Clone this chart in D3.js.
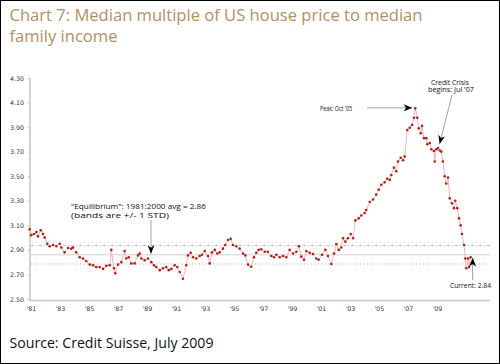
<!DOCTYPE html>
<html><head><meta charset="utf-8">
<script src="https://cdn.jsdelivr.net/npm/d3@7"></script>
<style>body{margin:0;background:#fff}svg{display:block}</style>
</head><body>
<script>
// ---- data ----
const dates = [1979.16,1979.27,1979.46,1979.62,1979.73,1979.92,1980.08,1980.19,1980.37,1980.54,1980.77,1981.00,1981.23,1981.34,1981.57,1981.80,1982.03,1982.15,1982.37,1982.61,1982.84,1983.06,1983.30,1983.53,1983.75,1983.99,1984.22,1984.44,1984.68,1984.79,1984.97,1985.06,1985.25,1985.48,1985.71,1985.82,1985.99,1986.17,1986.40,1986.63,1986.75,1986.86,1987.09,1987.32,1987.55,1987.73,1987.89,1988.13,1988.35,1988.58,1988.75,1988.93,1989.16,1989.34,1989.51,1989.73,1989.96,1990.08,1990.26,1990.42,1990.65,1990.88,1991.04,1991.23,1991.46,1991.57,1991.73,1991.92,1992.10,1992.26,1992.49,1992.65,1992.84,1993.02,1993.18,1993.41,1993.64,1993.87,1994.03,1994.22,1994.44,1994.63,1994.79,1994.95,1995.13,1995.37,1995.59,1995.82,1996.01,1996.17,1996.40,1996.63,1996.86,1997.09,1997.32,1997.55,1997.73,1997.89,1998.08,1998.24,1998.47,1998.70,1998.93,1999.09,1999.32,1999.55,1999.73,1999.96,2000.15,2000.31,2000.47,2000.65,2000.77,2000.93,2001.11,2001.30,2001.46,2001.62,2001.85,2002.03,2002.26,2002.37,2002.61,2002.84,2003.06,2003.23,2003.41,2003.64,2003.82,2003.99,2004.10,2004.28,2004.44,2004.56,2004.75,2004.91,2005.02,2005.20,2005.37,2005.53,2005.66,2005.75,2005.89,2005.99,2006.13,2006.22,2006.35,2006.51,2006.58,2006.75,2006.86,2007.04,2007.09,2007.20,2007.32,2007.44,2007.55,2007.66,2007.78,2007.89,2008.01,2008.13,2008.28,2008.42,2008.51,2008.65,2008.77,2008.88,2008.97,2009.11,2009.20,2009.27,2009.39,2009.46,2009.57];
const values = [3.068,3.02,3.03,3.045,3.01,3.06,3.03,3.00,2.95,2.93,2.94,2.93,2.95,2.92,2.88,2.915,2.91,2.92,2.88,2.84,2.83,2.81,2.78,2.775,2.76,2.76,2.745,2.77,2.775,2.90,2.75,2.71,2.78,2.80,2.89,2.83,2.84,2.79,2.79,2.855,2.87,2.83,2.815,2.83,2.80,2.775,2.76,2.735,2.75,2.76,2.735,2.745,2.775,2.76,2.72,2.665,2.775,2.855,2.877,2.84,2.83,2.85,2.86,2.89,2.85,2.79,2.88,2.90,2.87,2.88,2.91,2.94,2.98,2.99,2.94,2.93,2.91,2.87,2.855,2.78,2.763,2.84,2.877,2.90,2.905,2.885,2.885,2.85,2.84,2.86,2.84,2.85,2.84,2.90,2.87,2.885,2.93,2.845,2.82,2.89,2.877,2.866,2.83,2.82,2.86,2.90,2.85,2.785,2.87,2.948,2.90,2.92,2.995,2.967,2.995,3.03,2.995,3.14,3.157,3.18,3.20,3.225,3.29,3.31,3.35,3.39,3.43,3.45,3.48,3.47,3.51,3.57,3.54,3.62,3.65,3.63,3.66,3.876,3.895,3.917,3.976,4.053,3.976,3.89,3.85,3.91,3.81,3.81,3.76,3.77,3.72,3.705,3.62,3.72,3.73,3.71,3.70,3.62,3.50,3.44,3.49,3.32,3.28,3.24,3.30,3.24,3.157,3.10,3.03,2.94,2.83,2.75,2.83,2.76,2.84];
const xLabels = ["'81","'83","'85","'87","'89","'91","'93","'95","'97","'99","'01","'03","'05","'07","'09"];
const yTicks = [2.5,2.7,2.9,3.1,3.3,3.5,3.7,3.9,4.1,4.3];
const equilibrium = 2.86, bandStd = 0.075;
const peak = {date: 2005.75, value: 4.053, label: "Peak: Oct '05"};
const crisis = {date: 2007.5, value: 3.73, label: ["Credit Crisis", "begins: Jul '07"]};
const current = {date: 2009.57, value: 2.84, label: "Current: 2.84"};
const eqLabel = ['"Equilibrium": 1981:2000 avg = 2.86', '(bands are +/- 1 STD)'];
const title = ["Chart 7: Median multiple of US house price to median", "family income"];
const source = "Source: Credit Suisse, July 2009";

// ---- layout ----
const W = 500, H = 364;
const svg = d3.select("body").append("svg").attr("width", W).attr("height", H);
svg.append("rect").attr("x",0.5).attr("y",0.5).attr("width",W-1).attr("height",H-1)
  .attr("fill","#fff").attr("stroke","#000").attr("stroke-width",1);

const defs = svg.append("defs");
defs.append("marker").attr("id","arr").attr("viewBox","0 0 10 8").attr("refX",10).attr("refY",4)
  .attr("markerWidth",9).attr("markerHeight",7).attr("markerUnits","userSpaceOnUse").attr("orient","auto")
  .append("path").attr("d","M0,0 L10,4 L0,8 L3,4 Z").attr("fill","#000");

const x = d3.scaleLinear().domain([1979.25, 2009.25]).range([31, 466]);
const y = d3.scaleLinear().domain([2.5, 4.3]).range([299, 78]);
const xl = d3.scalePoint().domain(xLabels).range([31, 437]);

function fit(sel, w) {
  const l = sel.node().getComputedTextLength();
  if (l > 0) sel.attr("textLength", w).attr("lengthAdjust", "spacingAndGlyphs");
  return l > 0 ? w / l : 1;
}

// title
const tt = svg.append("g").attr("font-family","'Open Sans', sans-serif").attr("fill","#b38f5f");
const t1 = tt.append("text").attr("x",9.5).attr("y",20.5).attr("font-size",17).text(title[0]);
const ratio = fit(t1, 413);
const t2 = tt.append("text").attr("x",9.5).attr("y",41.5).attr("font-size",17).text(title[1]);
{ const l2 = t2.node().getComputedTextLength(); if (l2 > 0) fit(t2, l2 * ratio); }

// source
const src = svg.append("text").attr("x",9.5).attr("y",348).attr("font-family","'Open Sans', sans-serif")
  .attr("font-size",14.5).attr("fill","#111").text(source);
fit(src, 204);

// reference lines
const g = svg.append("g");
g.append("line").attr("x1",31).attr("x2",490).attr("y1",y(equilibrium+bandStd)).attr("y2",y(equilibrium+bandStd))
  .attr("stroke","#b8b8b8").attr("stroke-width",1).attr("stroke-dasharray","3,2,1,2");
g.append("line").attr("x1",31).attr("x2",490).attr("y1",y(equilibrium)).attr("y2",y(equilibrium))
  .attr("stroke","#d0d0d0").attr("stroke-width",1);
g.append("line").attr("x1",31).attr("x2",490).attr("y1",y(equilibrium-bandStd)).attr("y2",y(equilibrium-bandStd))
  .attr("stroke","#aaa").attr("stroke-width",1).attr("stroke-dasharray","1,2.5");

// axes
const ya = svg.append("g").attr("transform","translate(30,0)")
  .call(d3.axisLeft(y).tickValues(yTicks).tickFormat(d3.format(".2f")).tickSize(2).tickPadding(4));
ya.select(".domain").remove();
ya.selectAll(".tick line").attr("stroke","#bbb");
ya.selectAll("text").attr("font-family","'DejaVu Sans', sans-serif").attr("font-size",6.3).attr("fill","#333");
svg.append("line").attr("x1",30).attr("x2",30).attr("y1",78).attr("y2",301).attr("stroke","#c8c8c8").attr("stroke-width",1.6);

const xa = svg.append("g").attr("transform","translate(0,300)")
  .call(d3.axisBottom(xl).tickSize(0).tickPadding(7));
xa.select(".domain").remove();
xa.selectAll("text").attr("font-family","'DejaVu Sans', sans-serif").attr("font-size",6.3).attr("fill","#333");
svg.append("line").attr("x1",29).attr("x2",490).attr("y1",300.5).attr("y2",300.5).attr("stroke","#c8c8c8").attr("stroke-width",1.6);

// series
const pts = dates.map((d,i)=>({d, v: values[i]}));
svg.append("path").datum(pts)
  .attr("d", d3.line().x(p=>x(p.d)).y(p=>y(p.v)))
  .attr("fill","none").attr("stroke","#f0b4bc").attr("stroke-width",1);
svg.append("g").selectAll("circle").data(pts).join("circle")
  .attr("cx",p=>x(p.d)).attr("cy",p=>y(p.v)).attr("r",1.3).attr("fill","#b5200f");

// annotations
const af = "'Open Sans', sans-serif";
const ann = svg.append("g").attr("font-family",af).attr("font-size",6.3).attr("fill","#111");
const pk = ann.append("text").attr("x",320).attr("y",110.5).text(peak.label); fit(pk, 32);
svg.append("line").attr("x1",367).attr("x2",x(peak.date)-3).attr("y1",y(peak.value)-0.5).attr("y2",y(peak.value)-0.5)
  .attr("stroke","#999").attr("stroke-width",0.9).attr("marker-end","url(#arr)");

const c1 = ann.append("text").attr("x",450).attr("y",84.5).attr("text-anchor","middle").text(crisis.label[0]); fit(c1, 38);
const c2 = ann.append("text").attr("x",451).attr("y",92).attr("text-anchor","middle").text(crisis.label[1]); fit(c2, 46);
svg.append("line").attr("x1",452).attr("y1",95).attr("x2",x(crisis.date)-1).attr("y2",y(crisis.value)-4)
  .attr("stroke","#999").attr("stroke-width",0.9).attr("marker-end","url(#arr)");

const e1 = ann.append("text").attr("x",71).attr("y",209).text(eqLabel[0]); fit(e1, 135);
const e2 = ann.append("text").attr("x",71).attr("y",217.5).text(eqLabel[1]); fit(e2, 98);
svg.append("line").attr("x1",151).attr("y1",220).attr("x2",151).attr("y2",y(2.86)-1)
  .attr("stroke","#999").attr("stroke-width",0.9).attr("marker-end","url(#arr)");

const cu = ann.append("text").attr("x",450).attr("y",287.5).text(current.label); fit(cu, 41);
svg.append("line").attr("x1",x(current.date)+2).attr("y1",280).attr("x2",x(current.date)+2).attr("y2",y(current.value)+0.5)
  .attr("stroke","#999").attr("stroke-width",0.9).attr("marker-end","url(#arr)");
</script>
</body></html>
